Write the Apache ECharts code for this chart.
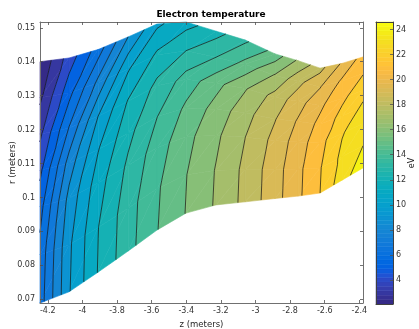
<!DOCTYPE html>
<html>
<head>
<meta charset="utf-8">
<script src="https://cdn.jsdelivr.net/npm/echarts@6/dist/echarts.min.js"></script>
<style>
  html, body { margin: 0; padding: 0; background: #fff; }
  #chart { width: 419px; height: 329px; }
</style>
</head>
<body>
<div id="chart"></div>
<script>
// Mesh columns along the axis (m)
const zNodes = [-4.245, -4.077, -3.909, -3.736, -3.569, -3.401, -3.228, -3.060, -2.887, -2.754, -2.627, -2.500, -2.379];
// Lower and upper wall radius at each column (m)
const rBottom = [0.0689, 0.0722, 0.0780, 0.0842, 0.0904, 0.0954, 0.0978, 0.0987, 0.0997, 0.1004, 0.1013, 0.1051, 0.1087];
const rTop    = [0.1400, 0.1411, 0.1436, 0.1473, 0.1511, 0.1517, 0.1490, 0.1464, 0.1423, 0.1403, 0.1381, 0.1395, 0.1414];
// Fractional position of each mesh row between the walls
const sRows = [0, 0.2, 0.4, 0.55, 0.7, 0.85, 1];
// Electron temperature (eV), one row per mesh row, bottom wall first
const teRow0 = [6.51, 9.92, 12.06, 13.65, 14.96, 16.04, 17.12, 18.29, 19.62, 20.79, 22.00, 23.60, 24.60];
const teRow1 = [6.34, 9.82, 11.98, 13.57, 14.87, 15.97, 17.06, 18.24, 19.57, 20.74, 21.93, 23.26, 24.00];
const teRow2 = [5.60, 9.33, 11.55, 13.20, 14.51, 15.67, 16.80, 17.99, 19.32, 20.49, 21.65, 22.92, 23.59];
const teRow3 = [4.75, 8.44, 10.95, 12.70, 13.98, 15.19, 16.38, 17.60, 18.95, 20.12, 21.29, 22.33, 23.18];
const teRow4 = [3.79, 7.06, 10.01, 12.07, 13.27, 14.41, 15.66, 16.91, 18.37, 19.55, 20.79, 21.77, 22.61];
const teRow5 = [2.81, 5.66, 8.29, 10.89, 12.20, 13.00, 14.00, 15.30, 17.10, 18.67, 19.94, 21.17, 21.95];
const teRow6 = [2.08, 4.46, 6.50, 9.00, 10.80, 11.60, 12.60, 13.80, 15.40, 17.14, 18.67, 20.13, 21.40];
// Contour levels (eV)
const levels = [3, 4, 5, 6, 7, 8, 9, 10, 11, 12, 13, 14, 15, 16, 17, 18, 19, 20, 21, 22, 23, 24];
// Tick values
const zTicks = [-4.2, -4, -3.8, -3.6, -3.4, -3.2, -3, -2.8, -2.6, -2.4];
const rTicks = [0.07, 0.08, 0.09, 0.1, 0.11, 0.12, 0.13, 0.14, 0.15];
const cbarTicks = [4, 6, 8, 10, 12, 14, 16, 18, 20, 22, 24];

const teGrid = [teRow0, teRow1, teRow2, teRow3, teRow4, teRow5, teRow6];
const allTe = teGrid.flat();
const cMin = Math.min(...allTe);
const cMax = Math.max(...allTe);

// parula colormap, 64 entries
const PARULA = [
[0.2081,0.1663,0.5292],[0.2116,0.1898,0.5777],[0.2123,0.2138,0.6270],[0.2081,0.2386,0.6771],
[0.1959,0.2645,0.7279],[0.1707,0.2919,0.7792],[0.1253,0.3242,0.8303],[0.0591,0.3598,0.8683],
[0.0117,0.3875,0.8820],[0.0060,0.4086,0.8828],[0.0165,0.4266,0.8786],[0.0329,0.4430,0.8720],
[0.0498,0.4586,0.8641],[0.0629,0.4737,0.8554],[0.0723,0.4887,0.8467],[0.0779,0.5040,0.8384],
[0.0793,0.5200,0.8312],[0.0749,0.5375,0.8263],[0.0641,0.5570,0.8240],[0.0488,0.5772,0.8228],
[0.0343,0.5966,0.8199],[0.0265,0.6137,0.8135],[0.0239,0.6287,0.8038],[0.0231,0.6418,0.7913],
[0.0228,0.6535,0.7768],[0.0267,0.6642,0.7607],[0.0384,0.6743,0.7436],[0.0590,0.6838,0.7254],
[0.0843,0.6928,0.7062],[0.1133,0.7015,0.6859],[0.1453,0.7098,0.6646],[0.1801,0.7177,0.6424],
[0.2178,0.7250,0.6193],[0.2586,0.7317,0.5954],[0.3022,0.7376,0.5712],[0.3482,0.7424,0.5473],
[0.3953,0.7459,0.5244],[0.4420,0.7481,0.5033],[0.4871,0.7491,0.4840],[0.5300,0.7491,0.4661],
[0.5709,0.7485,0.4494],[0.6099,0.7473,0.4337],[0.6473,0.7456,0.4188],[0.6834,0.7435,0.4044],
[0.7184,0.7411,0.3905],[0.7525,0.7384,0.3768],[0.7858,0.7356,0.3633],[0.8185,0.7327,0.3498],
[0.8507,0.7299,0.3360],[0.8824,0.7274,0.3217],[0.9139,0.7258,0.3063],[0.9450,0.7261,0.2886],
[0.9739,0.7314,0.2666],[0.9938,0.7455,0.2403],[0.9990,0.7653,0.2164],[0.9955,0.7861,0.1967],
[0.9880,0.8066,0.1794],[0.9789,0.8271,0.1633],[0.9697,0.8481,0.1475],[0.9626,0.8705,0.1309],
[0.9589,0.8949,0.1132],[0.9598,0.9218,0.0948],[0.9661,0.9514,0.0755],[0.9763,0.9831,0.0538]
];
function cmapColor(k) {
  const c = PARULA[Math.max(0, Math.min(63, k))];
  return 'rgb(' + Math.round(c[0] * 255) + ',' + Math.round(c[1] * 255) + ',' + Math.round(c[2] * 255) + ')';
}
function valueColor(v) {
  return cmapColor(Math.floor((v - cMin) / (cMax - cMin) * 64));
}

// mesh node: [z, r, Te]
function node(i, j) {
  return [zNodes[i], rBottom[i] + sRows[j] * (rTop[i] - rBottom[i]), teGrid[j][i]];
}
function cellTriangles(i, j) {
  const a = node(i, j), b = node(i + 1, j), c = node(i + 1, j + 1), d = node(i, j + 1);
  return [[a, b, c], [a, c, d]];
}
// keep the part of a polygon above (or below) a level, interpolating linearly along edges
function clipPoly(poly, level, keepAbove) {
  const out = [];
  for (let k = 0; k < poly.length; k++) {
    const a = poly[k], b = poly[(k + 1) % poly.length];
    const ina = keepAbove ? a[2] >= level : a[2] <= level;
    const inb = keepAbove ? b[2] >= level : b[2] <= level;
    if (ina) out.push(a);
    if (ina !== inb) {
      const f = (level - a[2]) / (b[2] - a[2]);
      out.push([a[0] + f * (b[0] - a[0]), a[1] + f * (b[1] - a[1]), level]);
    }
  }
  return out;
}

const cells = [];
for (let i = 0; i < zNodes.length - 1; i++) {
  for (let j = 0; j < sRows.length - 1; j++) {
    const zc = (zNodes[i] + zNodes[i + 1]) / 2;
    const rc = (node(i, j)[1] + node(i + 1, j + 1)[1]) / 2;
    cells.push([zc, rc, i, j]);
  }
}

function renderBands(params, api) {
  const i = api.value(2), j = api.value(3);
  const children = [];
  for (const tri of cellTriangles(i, j)) {
    for (let b = 0; b <= levels.length; b++) {
      let poly = tri;
      if (b > 0) poly = clipPoly(poly, levels[b - 1], true);
      if (poly.length >= 3 && b < levels.length) poly = clipPoly(poly, levels[b], false);
      if (poly.length < 3) continue;
      const col = valueColor(b === 0 ? cMin : levels[b - 1]);
      children.push({
        type: 'polygon',
        shape: { points: poly.map(p => api.coord([p[0], p[1]])) },
        style: { fill: col, stroke: col, lineWidth: 0.6 }
      });
    }
  }
  return { type: 'group', children };
}

function renderIsolines(params, api) {
  const i = api.value(2), j = api.value(3);
  const children = [];
  for (const tri of cellTriangles(i, j)) {
    for (const L of levels) {
      const pts = [];
      for (let k = 0; k < 3; k++) {
        const a = tri[k], b = tri[(k + 1) % 3];
        if ((a[2] >= L) !== (b[2] >= L)) {
          const f = (L - a[2]) / (b[2] - a[2]);
          pts.push(api.coord([a[0] + f * (b[0] - a[0]), a[1] + f * (b[1] - a[1])]));
        }
      }
      if (pts.length === 2) {
        children.push({
          type: 'line',
          shape: { x1: pts[0][0], y1: pts[0][1], x2: pts[1][0], y2: pts[1][1] },
          style: { stroke: '#111', lineWidth: 0.7 }
        });
      }
    }
  }
  return { type: 'group', children };
}

// colorbar strips, one per colormap entry
const cbarStrips = [];
for (let k = 0; k < 64; k++) {
  cbarStrips.push([0.5, cMin + (k + 0.5) * (cMax - cMin) / 64, k]);
}
function renderStrip(params, api) {
  const k = api.value(2);
  const step = (cMax - cMin) / 64;
  const p1 = api.coord([0, cMin + k * step]);
  const p2 = api.coord([1, cMin + (k + 1) * step]);
  const col = cmapColor(k);
  return {
    type: 'rect',
    shape: { x: p1[0], y: p2[1], width: p2[0] - p1[0], height: p1[1] - p2[1] },
    style: { fill: col, stroke: col, lineWidth: 0.5 }
  };
}

const FONT = 'DejaVu Sans';
const AX = '#262626';
const lineStyle = { color: '#707070', width: 1 };
const tickStyle = { color: '#505050', width: 0.8 };
const fmt = v => String(v);

const chart = echarts.init(document.getElementById('chart'), null, { renderer: 'canvas' });
chart.setOption({
  animation: false,
  backgroundColor: '#fff',
  title: {
    text: 'Electron temperature',
    left: 206, top: 5, textAlign: 'center',
    textStyle: { fontFamily: FONT, fontSize: 9, fontWeight: 'bold', color: '#000' }
  },
  grid: [
    { left: 40, top: 22, width: 323, height: 281, containLabel: false, outerBoundsMode: 'none' },
    { left: 376, top: 22, width: 17, height: 282, containLabel: false, outerBoundsMode: 'none' }
  ],
  xAxis: [
    {
      type: 'value', gridIndex: 0, position: 'bottom',
      min: zNodes[0], max: zNodes[zNodes.length - 1], z: 10,
      name: 'z (meters)', nameLocation: 'middle', nameGap: 17, nameMoveOverlap: false,
      nameTextStyle: { fontFamily: FONT, fontSize: 8.5, color: AX },
      axisLine: { show: true, onZero: false, lineStyle },
      axisTick: { show: true, inside: true, length: 3, lineStyle: tickStyle, customValues: zTicks },
      axisLabel: { show: true, margin: 4, fontFamily: FONT, fontSize: 8, color: '#333', customValues: zTicks, formatter: fmt },
      splitLine: { show: false }
    },
    {
      type: 'value', gridIndex: 0, position: 'top',
      min: zNodes[0], max: zNodes[zNodes.length - 1], z: 10,
      axisLine: { show: true, onZero: false, lineStyle },
      axisTick: { show: true, inside: true, length: 3, lineStyle: tickStyle, customValues: zTicks },
      axisLabel: { show: false },
      splitLine: { show: false }
    },
    {
      type: 'value', gridIndex: 1, position: 'bottom', min: 0, max: 1, z: 10,
      axisLine: { show: true, onZero: false, lineStyle: { color: '#404040', width: 1 } },
      axisTick: { show: false }, axisLabel: { show: false }, splitLine: { show: false }
    },
    {
      type: 'value', gridIndex: 1, position: 'top', min: 0, max: 1, z: 10,
      axisLine: { show: true, onZero: false, lineStyle: { color: '#404040', width: 1 } },
      axisTick: { show: false }, axisLabel: { show: false }, splitLine: { show: false }
    }
  ],
  yAxis: [
    {
      type: 'value', gridIndex: 0, position: 'left',
      min: Math.min(...rBottom), max: Math.max(...rTop), z: 10,
      name: 'r (meters)', nameLocation: 'middle', nameGap: 23, nameRotate: 90, nameMoveOverlap: false,
      nameTextStyle: { fontFamily: FONT, fontSize: 8.5, color: AX },
      axisLine: { show: true, onZero: false, lineStyle },
      axisTick: { show: true, inside: true, length: 3, lineStyle: tickStyle, customValues: rTicks },
      axisLabel: { show: true, margin: 5, fontFamily: FONT, fontSize: 8, color: '#333', customValues: rTicks, formatter: fmt },
      splitLine: { show: false }
    },
    {
      type: 'value', gridIndex: 0, position: 'right',
      min: Math.min(...rBottom), max: Math.max(...rTop), z: 10,
      axisLine: { show: true, onZero: false, lineStyle },
      axisTick: { show: true, inside: true, length: 3, lineStyle: tickStyle, customValues: rTicks },
      axisLabel: { show: false },
      splitLine: { show: false }
    },
    {
      type: 'value', gridIndex: 1, position: 'left', min: cMin, max: cMax, z: 10,
      axisLine: { show: true, onZero: false, lineStyle: { color: '#404040', width: 1 } },
      axisTick: { show: false }, axisLabel: { show: false }, splitLine: { show: false }
    },
    {
      type: 'value', gridIndex: 1, position: 'right', min: cMin, max: cMax, z: 10,
      name: 'eV', nameLocation: 'middle', nameGap: 15, nameRotate: 90, nameMoveOverlap: false,
      nameTextStyle: { fontFamily: FONT, fontSize: 8, color: AX },
      axisLine: { show: true, onZero: false, lineStyle: { color: '#404040', width: 1 } },
      axisTick: { show: true, inside: true, length: 3, lineStyle: tickStyle, customValues: cbarTicks },
      axisLabel: { show: true, margin: 3, fontFamily: FONT, fontSize: 8, color: '#333', customValues: cbarTicks, formatter: fmt },
      splitLine: { show: false }
    }
  ],
  series: [
    {
      type: 'custom', name: 'bands', xAxisIndex: 0, yAxisIndex: 0,
      data: cells, renderItem: renderBands, silent: true, z: 2
    },
    {
      type: 'custom', name: 'isolines', xAxisIndex: 0, yAxisIndex: 0,
      data: cells, renderItem: renderIsolines, silent: true, z: 3
    },
    {
      type: 'custom', name: 'colorbar', xAxisIndex: 2, yAxisIndex: 2,
      data: cbarStrips, renderItem: renderStrip, silent: true, z: 2
    }
  ]
});
</script>
</body>
</html>
